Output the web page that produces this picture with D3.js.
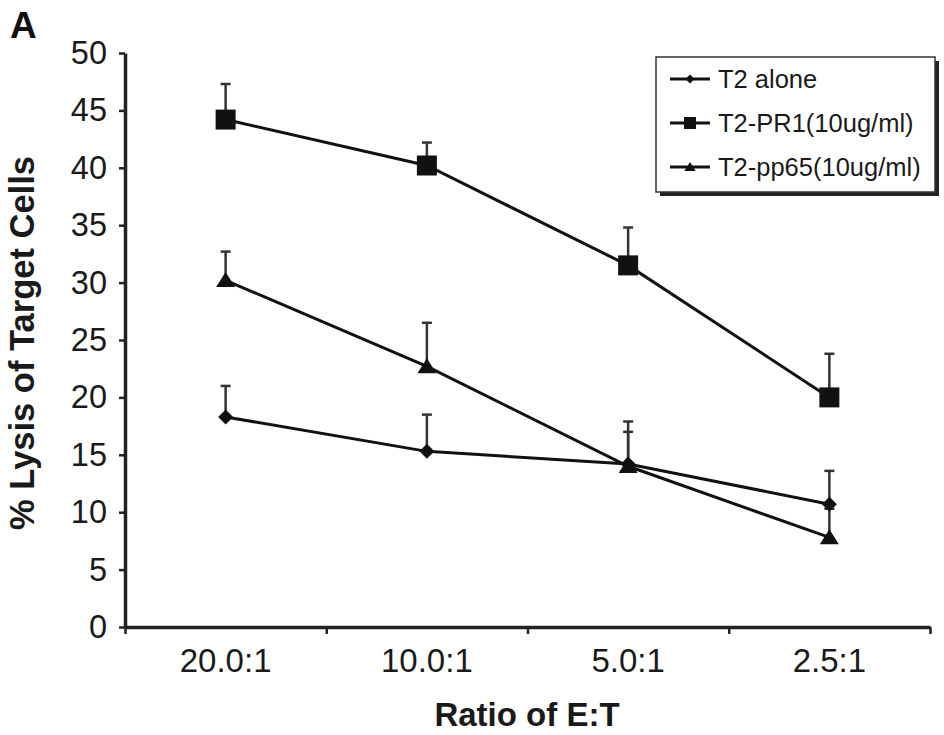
<!DOCTYPE html>
<html>
<head>
<meta charset="utf-8">
<script src="https://cdn.jsdelivr.net/npm/d3@7"></script>
<style>
  html, body { margin: 0; padding: 0; background: #fff; }
  svg { display: block; font-family: "Liberation Sans", Arial, sans-serif; }
</style>
</head>
<body>
<svg id="chart" width="944" height="735"></svg>
<script>
// ---- data ----
const categories = ["20.0:1", "10.0:1", "5.0:1", "2.5:1"];
const seriesNames = ["T2 alone", "T2-PR1(10ug/ml)", "T2-pp65(10ug/ml)"];
const t2Alone    = [18.3, 15.3, 14.2, 10.7];
const t2AloneErr = [2.7, 3.2, 3.7, 2.9];
const t2PR1      = [44.2, 40.2, 31.5, 20.0];
const t2PR1Err   = [3.1, 2.0, 3.3, 3.8];
const t2pp65     = [30.2, 22.7, 14.0, 7.8];
const t2pp65Err  = [2.5, 3.8, 3.0, 2.5];
const yTicks = [0, 5, 10, 15, 20, 25, 30, 35, 40, 45, 50];

const series = [
  { name: seriesNames[0], values: t2Alone, err: t2AloneErr, marker: "diamond" },
  { name: seriesNames[1], values: t2PR1,   err: t2PR1Err,   marker: "square" },
  { name: seriesNames[2], values: t2pp65,  err: t2pp65Err,  marker: "triangle" }
];

const svg = d3.select("#chart");
const pLeft = 125, pRight = 930, pTop = 53, pBottom = 627;

const x = d3.scaleBand().domain(categories).range([pLeft, pRight]).padding(0);
const xEdge = d3.scaleLinear().domain([0, categories.length]).range([pLeft, pRight]);
const y = d3.scaleLinear().domain([0, 50]).range([pBottom, pTop]);

// ---- axes ----
const yAxis = svg.append("g")
  .attr("transform", `translate(${pLeft},0)`)
  .call(d3.axisLeft(y).tickValues(yTicks).tickSize(6).tickPadding(12).tickSizeOuter(0));
yAxis.select(".domain").attr("stroke", "#222").attr("stroke-width", 3.5);
yAxis.selectAll(".tick line").attr("stroke", "#222").attr("stroke-width", 2.5);
yAxis.selectAll(".tick text").attr("font-size", 32.5).attr("fill", "#1a1a1a")
  .attr("font-family", "Liberation Sans, Arial, sans-serif");

const xTickAxis = svg.append("g")
  .attr("transform", `translate(0,${pBottom})`)
  .call(d3.axisBottom(xEdge).tickValues(d3.range(categories.length + 1)).tickSize(7).tickFormat(() => "").tickSizeOuter(0));
xTickAxis.select(".domain").attr("stroke", "#222").attr("stroke-width", 3.5);
xTickAxis.selectAll(".tick line").attr("stroke", "#222").attr("stroke-width", 2.5);

const xLabelAxis = svg.append("g")
  .attr("transform", `translate(0,${pBottom})`)
  .call(d3.axisBottom(x).tickSize(0).tickPadding(22));
xLabelAxis.select(".domain").remove();
xLabelAxis.selectAll(".tick text").attr("font-size", 33).attr("fill", "#1a1a1a")
  .attr("font-family", "Liberation Sans, Arial, sans-serif");

// ---- titles ----
svg.append("text")
  .attr("x", 527).attr("y", 726)
  .attr("text-anchor", "middle")
  .attr("font-size", 33).attr("font-weight", "bold").attr("fill", "#1a1a1a")
  .text("Ratio of E:T");

svg.append("text")
  .attr("transform", "translate(34,343) rotate(-90)")
  .attr("text-anchor", "middle")
  .attr("font-size", 34.5).attr("font-weight", "bold").attr("fill", "#1a1a1a")
  .text("% Lysis of Target Cells");

svg.append("text")
  .attr("x", 10).attr("y", 38)
  .attr("font-size", 37).attr("font-weight", "bold").attr("fill", "#111")
  .text("A");

// ---- marker helper ----
function drawMarker(g, type, cx, cy, scale) {
  const s = scale || 1;
  if (type === "square") {
    const h = 10 * s;
    g.append("rect").attr("x", cx - h).attr("y", cy - h).attr("width", 2 * h).attr("height", 2 * h)
      .attr("fill", "#111");
  } else if (type === "diamond") {
    const h = 7.5 * s;
    g.append("path").attr("d", `M${cx},${cy - h}L${cx + h},${cy}L${cx},${cy + h}L${cx - h},${cy}Z`)
      .attr("fill", "#111");
  } else {
    const w = 9.5 * s, ht = 15 * s;
    g.append("path").attr("d", `M${cx},${cy - ht * 0.55}L${cx + w},${cy + ht * 0.45}L${cx - w},${cy + ht * 0.45}Z`)
      .attr("fill", "#111");
  }
}

const plot = svg.append("g");

// error bars (upper only)
series.forEach(s => {
  s.values.forEach((v, i) => {
    const cx = x(categories[i]) + x.bandwidth() / 2;
    const yTop = y(v + s.err[i]);
    plot.append("line").attr("x1", cx).attr("x2", cx).attr("y1", y(v)).attr("y2", yTop)
      .attr("stroke", "#333").attr("stroke-width", 2.5);
    plot.append("line").attr("x1", cx - 5).attr("x2", cx + 5).attr("y1", yTop).attr("y2", yTop)
      .attr("stroke", "#333").attr("stroke-width", 2.5);
  });
});

// lines
const line = d3.line()
  .x((d, i) => x(categories[i]) + x.bandwidth() / 2)
  .y(d => y(d));
series.forEach(s => {
  plot.append("path").attr("d", line(s.values))
    .attr("fill", "none").attr("stroke", "#111").attr("stroke-width", 3);
});

// markers
series.forEach(s => {
  s.values.forEach((v, i) => {
    drawMarker(plot, s.marker, x(categories[i]) + x.bandwidth() / 2, y(v));
  });
});

// ---- legend ----
const lg = svg.append("g");
const lx = 656, ly = 57, lw = 279, lh = 135;
lg.append("rect").attr("x", lx + 4).attr("y", ly + 4).attr("width", lw).attr("height", lh).attr("fill", "#222");
lg.append("rect").attr("x", lx).attr("y", ly).attr("width", lw).attr("height", lh)
  .attr("fill", "#fff").attr("stroke", "#333").attr("stroke-width", 1.5);
series.forEach((s, i) => {
  const yy = 79 + i * 44;
  lg.append("line").attr("x1", 670).attr("x2", 710).attr("y1", yy).attr("y2", yy)
    .attr("stroke", "#111").attr("stroke-width", 3);
  drawMarker(lg, s.marker, 690, yy, 0.6);
  lg.append("text").attr("x", 718).attr("y", yy + 9)
    .attr("font-size", 25.5).attr("fill", "#1a1a1a").text(s.name);
});
</script>
</body>
</html>
